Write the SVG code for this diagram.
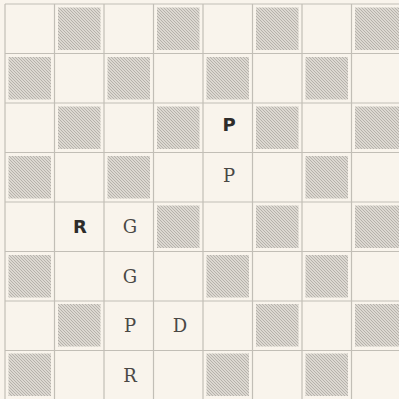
<svg xmlns="http://www.w3.org/2000/svg" width="399" height="399" viewBox="0 0 399 399">
<defs>
<pattern id="hatch" patternUnits="userSpaceOnUse" width="3" height="3">
<rect width="3" height="3" fill="#dcd8d1"/>
<path d="M-1,-1 L4,4 M-1,2 L1,4 M2,-1 L4,1" stroke="#aca8a1" stroke-width="0.8"/>
</pattern>
<style>
.grid{stroke:#c2beb6;stroke-width:1.2;fill:none}
.d{fill:url(#hatch)}
.w{font-family:"DejaVu Serif","Liberation Serif",serif;font-size:18px;fill:#4a4845;text-anchor:middle}
.b{font-family:"DejaVu Sans","Liberation Sans",sans-serif;font-weight:900;font-size:18px;fill:#2e2c2a;text-anchor:middle}
</style>
</defs>
<rect width="399" height="399" fill="#f9f4ec"/>
<g id="squares">
<rect class="d" x="58" y="7.5" width="42.5" height="42.5"/>
<rect class="d" x="157" y="7.5" width="42.5" height="42.5"/>
<rect class="d" x="256" y="7.5" width="42.5" height="42.5"/>
<rect class="d" x="355" y="7.5" width="44" height="42.5"/>
<rect class="d" x="8.5" y="57" width="42.5" height="42.5"/>
<rect class="d" x="107.5" y="57" width="42.5" height="42.5"/>
<rect class="d" x="206.5" y="57" width="42.5" height="42.5"/>
<rect class="d" x="305.5" y="57" width="42.5" height="42.5"/>
<rect class="d" x="58" y="106.5" width="42.5" height="42.5"/>
<rect class="d" x="157" y="106.5" width="42.5" height="42.5"/>
<rect class="d" x="256" y="106.5" width="42.5" height="42.5"/>
<rect class="d" x="355" y="106.5" width="44" height="42.5"/>
<rect class="d" x="8.5" y="156" width="42.5" height="42.5"/>
<rect class="d" x="107.5" y="156" width="42.5" height="42.5"/>
<rect class="d" x="305.5" y="156" width="42.5" height="42.5"/>
<rect class="d" x="157" y="205.5" width="42.5" height="42.5"/>
<rect class="d" x="256" y="205.5" width="42.5" height="42.5"/>
<rect class="d" x="355" y="205.5" width="44" height="42.5"/>
<rect class="d" x="8.5" y="255" width="42.5" height="42.5"/>
<rect class="d" x="206.5" y="255" width="42.5" height="42.5"/>
<rect class="d" x="305.5" y="255" width="42.5" height="42.5"/>
<rect class="d" x="58" y="304" width="42.5" height="42.5"/>
<rect class="d" x="256" y="304" width="42.5" height="42.5"/>
<rect class="d" x="355" y="304" width="44" height="42.5"/>
<rect class="d" x="8.5" y="353.5" width="42.5" height="42.5"/>
<rect class="d" x="206.5" y="353.5" width="42.5" height="42.5"/>
<rect class="d" x="305.5" y="353.5" width="42.5" height="42.5"/>
</g>
<g id="grid" class="grid">
<path d="M5,4V399 M54.5,4V399 M104,4V399 M153.5,4V399 M203,4V399 M252.5,4V399 M302,4V399 M351.5,4V399"/>
<path d="M5,4H399 M5,53.5H399 M5,103H399 M5,152.5H399 M5,202H399 M5,251.5H399 M5,301H399 M5,350.5H399"/>
</g>
<g id="pieces">
<text class="b" x="229" y="131">P</text>
<text class="w" x="229" y="182">P</text>
<text class="b" x="80" y="233">R</text>
<text class="w" x="130" y="233">G</text>
<text class="w" x="130" y="283">G</text>
<text class="w" x="130" y="332">P</text>
<text class="w" x="180" y="332">D</text>
<text class="w" x="130" y="382">R</text>
</g>
</svg>
